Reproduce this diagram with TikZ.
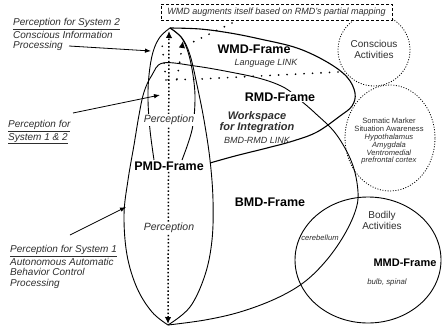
\documentclass[tikz,border=0pt]{standalone}
\usepackage{fontspec}
\setmainfont{Liberation Sans}
\usetikzlibrary{arrows.meta}
\definecolor{txtgray}{HTML}{2E2E2E}
\tikzset{
  edgeline/.style={line width=0.9pt, black},
  framelbl/.style={font=\fontsize{12.5}{13}\selectfont\bfseries, text=black, inner sep=1pt},
  perclbl/.style={font=\fontsize{10.5}{12}\selectfont\itshape, text=txtgray, fill=white, inner sep=1.2pt},
  sidelbl/.style={font=\fontsize{10}{10.4}\selectfont\itshape, text=txtgray, align=left, anchor=north west, inner sep=0pt},
  linklbl/.style={font=\fontsize{9}{10}\selectfont\itshape, text=txtgray, inner sep=0pt},
  wslbl/.style={font=\fontsize{11}{12}\selectfont\bfseries\itshape, text=txtgray, inner sep=0pt},
  circlbl/.style={font=\fontsize{10}{11}\selectfont, text=txtgray, align=center, inner sep=0pt},
  tinylbl/.style={font=\fontsize{7.6}{7.8}\selectfont, text=txtgray, align=center, inner sep=0pt},
  maindots/.style={line width=1.5pt, dash pattern=on 1.5pt off 2.2pt},
  rounddots/.style={line width=1.9pt, line cap=round, dash pattern=on 0pt off 8.5pt},
  finedots/.style={line width=0.8pt, dash pattern=on 1pt off 1.6pt},
  pointer/.style={line width=0.8pt, -{Latex[length=6pt,width=4.5pt]}},
}
\begin{document}
\begin{tikzpicture}[x=1pt,y=-1pt]
\useasboundingbox (0,0) rectangle (443,329);

% ---------- key points ----------
\coordinate (apex) at (170,28);
\coordinate (bot) at (168,325);
\coordinate (vTop) at (169,31);
\coordinate (vBot) at (168,324);
\coordinate (hR) at (338,72);
\coordinate (hM) at (200,79);
\coordinate (hL) at (166,80);
\coordinate (lcTop) at (162,44);
\coordinate (rcBot) at (177,79);
\coordinate (rcTip) at (183,41);
\coordinate (dgA) at (232,23);
\coordinate (dgB) at (191,43);

% ---------- outer shapes ----------
% BMD frame
\draw[edgeline] plot[smooth, tension=0.6] coordinates {(168,325) (205,320) (240,312) (275,299) (303,283) (325,262) (343,237) (355,212) (358,192) (352,163) (336,134) (315,113) (300,100) (285,88) (262,79) (230,72) (195,66) (163,63) (152,75) (144,92) (139,115) (134,145) (128,180) (124,215) (127,255) (137,288) (152,312) (168,325)};
% PMD right side
\draw[edgeline] plot[smooth, tension=0.6] coordinates {(170,28) (182,38) (190,55) (197,85) (204,120) (210,160) (213,200) (212,240) (205,275) (190,307) (168,325)};
% inner perception lens
\draw[edgeline] plot[smooth, tension=0.6] coordinates {(170,28) (160,37) (153,52) (149,75) (148,100) (150,130) (154,160)};
\draw[edgeline] plot[smooth, tension=0.6] coordinates {(170,28) (181,37) (188,52) (193,75) (195,100) (192,130) (182,160)};
% WMD frame
\draw[line width=1.1pt] plot[smooth, tension=0.6] coordinates {(170,28) (200,29) (230,33) (260,39) (297,48) (327,62) (347,77) (355,93) (352,106) (340,116) (317,132) (293,141) (267,148) (235,156) (210,163)};
% MMD ellipse
\draw[edgeline] (368,260) ellipse [x radius=73pt, y radius=63pt];
% dotted circles
\draw[finedots] (374,50) circle [radius=36pt];
\draw[finedots] (390,138) ellipse [x radius=45pt, y radius=53pt];

% ---------- box ----------
\node[draw, line width=0.8pt, dash pattern=on 3pt off 2pt, fill=white, minimum width=231pt, minimum height=16pt, inner sep=0pt,
      font=\fontsize{9}{10}\selectfont\itshape, text=txtgray] (box) at (276.5,12) {WMD augments itself based on RMD's partial mapping};

% ---------- dotted connectors ----------
\draw[maindots, {Latex[length=7pt,width=6.5pt]}-{Latex[length=7pt,width=6.5pt]}] (vBot) -- (vTop);
\draw[rounddots] (hR) -- (hM) -- (hL);
\draw[rounddots] (hL) -- (lcTop);
\draw[rounddots, -{Latex[length=7pt,width=6.5pt]}] (rcBot) -- (rcTip);
\draw[rounddots] (dgA) -- (dgB);

% ---------- side labels ----------
\node[sidelbl] (s2) at (13,18.5) {\underline{Perception for System 2}\\Conscious Information\\Processing};
\node[sidelbl] (s12) at (8,120.5) {\underline{Perception for}\\\underline{System 1 \& 2}};
\node[sidelbl] (s1) at (10,245.5) {\underline{Perception for System 1}\\Autonomous Automatic\\Behavior Control\\Processing};
\coordinate (a2from) at (69,46);
\coordinate (a2to) at (151,51);
\coordinate (a12from) at (73,113);
\coordinate (a12to) at (160,95);
\coordinate (a1from) at (70,235);
\coordinate (a1to) at (126,207);
\draw[pointer] (a2from) -- (a2to);
\draw[pointer] (a12from) -- (a12to);
\draw[pointer] (a1from) -- (a1to);

% ---------- frame labels ----------
\node[framelbl] (wmd) at (254,49) {WMD-Frame};
\node[linklbl] (lang) at (266,63) {Language LINK};
\node[framelbl, fill=white] (rmd) at (280,97) {RMD-Frame};
\node[wslbl] (ws1) at (257,117) {Workspace};
\node[wslbl] (ws2) at (257,128) {for Integration};
\node[linklbl] (ws3) at (257,140) {BMD-RMD LINK};
\node[perclbl] (perc1) at (169,120) {Perception};
\node[framelbl, fill=white] (pmd) at (169,166) {PMD-Frame};
\node[perclbl] (perc2) at (169,228) {Perception};
\node[framelbl] (bmd) at (270,202) {BMD-Frame};
\node[framelbl, font=\fontsize{11}{12}\selectfont\bfseries] (mmd) at (405,263) {MMD-Frame};
\node[circlbl] (bodily) at (382,220) {Bodily\\Activities};
\node[tinylbl, font=\fontsize{7.6}{8}\selectfont\itshape] (cereb) at (320,238) {cerebellum};
\node[tinylbl, font=\fontsize{7.8}{8}\selectfont\itshape] (bulb) at (387,282) {bulb, spinal};
\node[circlbl] (consc) at (374,49) {Conscious\\Activities};
\node[tinylbl] (soma) at (389,141.5) {Somatic Marker\\Situation Awareness\\\textit{Hypothalamus}\\\textit{Amygdala}\\\textit{Ventromedial}\\\textit{prefrontal cortex}};
\end{tikzpicture}
\end{document}
